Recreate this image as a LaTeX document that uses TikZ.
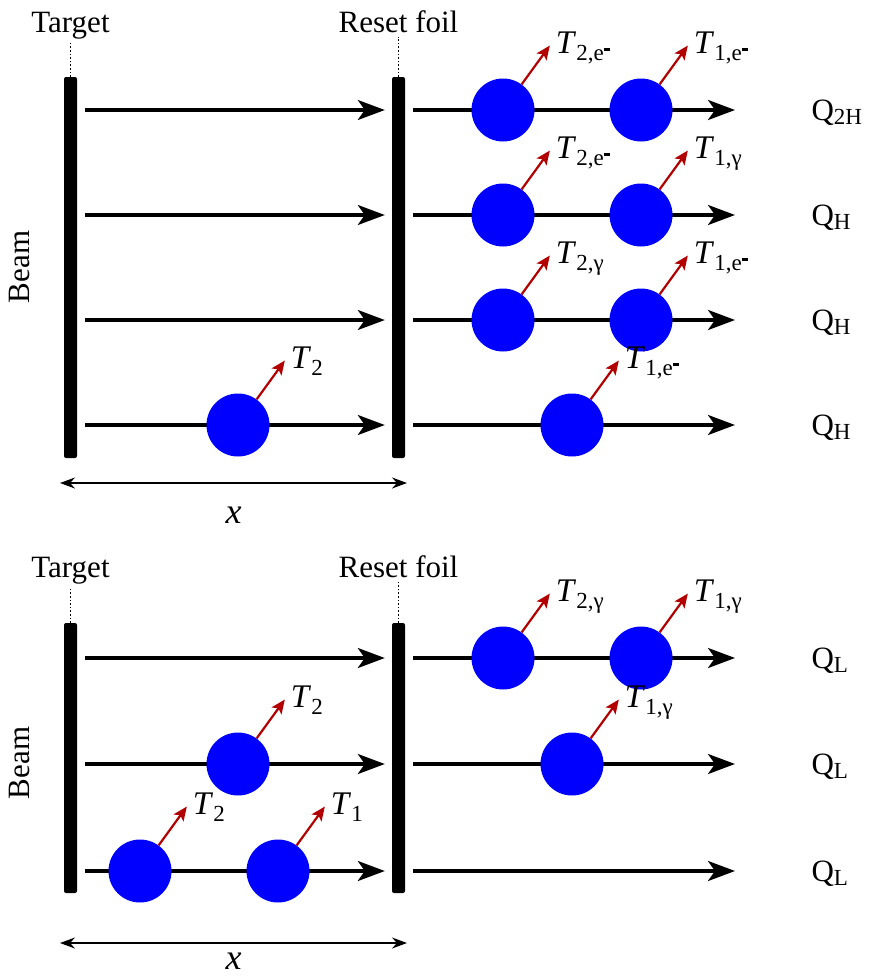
\documentclass[tikz,border=0pt]{standalone}
\usepackage{fontspec}
\setmainfont{Liberation Serif}
\usetikzlibrary{arrows.meta,positioning}

\newcommand{\tlow}[1]{\raisebox{-7pt}{\fontsize{23}{23}\selectfont #1}}
\newcommand{\qlow}[1]{\raisebox{-4pt}{\fontsize{23}{23}\selectfont #1}}
\newcommand{\elec}{e\raisebox{10pt}{\rule{6pt}{2.2pt}}}

\begin{document}
\begin{tikzpicture}[
  x=1pt, y=-1pt,
  font=\fontsize{31}{36}\selectfont,
  beam/.style={-{Stealth[length=27pt,width=20pt,inset=7pt]}, line width=3.2pt},
  foil/.style={rectangle, fill=black, rounded corners=2pt, minimum width=13pt, inner sep=0},
  guide/.style={dotted, line width=1.6pt},
  ion/.style={circle, fill=blue, minimum size=63pt, inner sep=0},
  emit/.style={-{Stealth[length=14pt,width=12pt,inset=3pt]}, line width=2.2pt, draw=red!70!black},
  tlab/.style={anchor=base west, xshift=3pt, yshift=-8pt, inner sep=2pt, font=\fontsize{33}{36}\selectfont},
  qlab/.style={anchor=base west},
  dist/.style={{Stealth[length=15pt,width=11pt,inset=5pt]}-{Stealth[length=15pt,width=11pt,inset=5pt]}, line width=1.2pt},
  xlab/.style={font=\fontsize{36}{40}\selectfont\itshape},
]
\useasboundingbox (0,0) rectangle (874,977);

% ---- upper panel
\node[foil, minimum height=381pt] (tgtA)  at (70.5,267.5) {};
\node[foil, minimum height=381pt] (foilA) at (398.5,267.5) {};
\node[anchor=base, inner sep=4.5pt] (tgtlabA)  at (70.5,32) {Target};
\node[anchor=base, inner sep=4.5pt] (foillabA) at (398.5,32) {Reset foil};
\draw[guide] (tgtA.north) -- (tgtA.north |- tgtlabA.south);
\draw[guide] (foilA.north) -- (foilA.north |- foillabA.south);
\node[rotate=90] (beamA) at (20,267) {Beam};

\foreach \i/\y/\q in {1/110/2H, 2/215/H, 3/320/H, 4/425/H} {
  \coordinate (endA\i) at (735,\y);
  \node[qlab] (qA\i) at (808,\y+10) {Q\qlow{\q}};
  \draw[beam, shorten <=8pt, shorten >=7pt] (tgtA.east |- endA\i) -- (foilA.west |- endA\i);
  \draw[beam, shorten <=8pt] (foilA.east |- endA\i) -- (endA\i);
}

% particles
\node[ion] (ionA1a) at (503,110) {};
\node[ion] (ionA1b) at (641,110) {};
\node[ion] (ionA2a) at (503,215) {};
\node[ion] (ionA2b) at (641,215) {};
\node[ion] (ionA3a) at (503,320) {};
\node[ion] (ionA3b) at (641,320) {};
\node[ion] (ionA4a) at (238,425) {};
\node[ion] (ionA4b) at (572,425) {};

\draw[emit] (ionA1a.54) -- ++(54:48pt) node[tlab] {\textit{T}\tlow{2,\elec}};
\draw[emit] (ionA1b.54) -- ++(54:48pt) node[tlab] {\textit{T}\tlow{1,\elec}};
\draw[emit] (ionA2a.54) -- ++(54:48pt) node[tlab] {\textit{T}\tlow{2,\elec}};
\draw[emit] (ionA2b.54) -- ++(54:48pt) node[tlab] {\textit{T}\tlow{1,γ}};
\draw[emit] (ionA3a.54) -- ++(54:48pt) node[tlab] {\textit{T}\tlow{2,γ}};
\draw[emit] (ionA3b.54) -- ++(54:48pt) node[tlab] {\textit{T}\tlow{1,\elec}};
\draw[emit] (ionA4a.54) -- ++(54:48pt) node[tlab] {\textit{T}\tlow{2}};
\draw[emit] (ionA4b.54) -- ++(54:48pt) node[tlab] {\textit{T}\tlow{1,\elec}};

\coordinate (xlA) at (60,483);
\coordinate (xrA) at (407,483);
\draw[dist] (xlA) -- node[xlab, below=20pt] (xA) {x} (xrA);

% ---- lower panel
\node[foil, minimum height=270pt] (tgtB)  at (70.5,758) {};
\node[foil, minimum height=270pt] (foilB) at (398.5,758) {};
\node[anchor=base, inner sep=4.5pt] (tgtlabB)  at (70.5,577) {Target};
\node[anchor=base, inner sep=4.5pt] (foillabB) at (398.5,577) {Reset foil};
\draw[guide] (tgtB.north) -- (tgtB.north |- tgtlabB.south);
\draw[guide] (foilB.north) -- (foilB.north |- foillabB.south);
\node[rotate=90] (beamB) at (20,763) {Beam};

\foreach \i/\y in {1/658, 2/764, 3/871} {
  \coordinate (endB\i) at (735,\y);
  \node[qlab] (qB\i) at (808,\y+10) {Q\qlow{L}};
  \draw[beam, shorten <=8pt, shorten >=7pt] (tgtB.east |- endB\i) -- (foilB.west |- endB\i);
  \draw[beam, shorten <=8pt] (foilB.east |- endB\i) -- (endB\i);
}

% particles
\node[ion] (ionB1a) at (503,658) {};
\node[ion] (ionB1b) at (641,658) {};
\node[ion] (ionB2a) at (238,764) {};
\node[ion] (ionB2b) at (572,764) {};
\node[ion] (ionB3a) at (140,871) {};
\node[ion] (ionB3b) at (278,871) {};

\draw[emit] (ionB1a.54) -- ++(54:48pt) node[tlab] {\textit{T}\tlow{2,γ}};
\draw[emit] (ionB1b.54) -- ++(54:48pt) node[tlab] {\textit{T}\tlow{1,γ}};
\draw[emit] (ionB2a.54) -- ++(54:48pt) node[tlab] {\textit{T}\tlow{2}};
\draw[emit] (ionB2b.54) -- ++(54:48pt) node[tlab] {\textit{T}\tlow{1,γ}};
\draw[emit] (ionB3a.54) -- ++(54:48pt) node[tlab] {\textit{T}\tlow{2}};
\draw[emit] (ionB3b.54) -- ++(54:48pt) node[tlab] {\textit{T}\tlow{1}};

\coordinate (xlB) at (60,943);
\coordinate (xrB) at (407,943);
\draw[dist] (xlB) -- node[xlab, below=6pt] (xB) {x} (xrB);

\end{tikzpicture}
\end{document}
